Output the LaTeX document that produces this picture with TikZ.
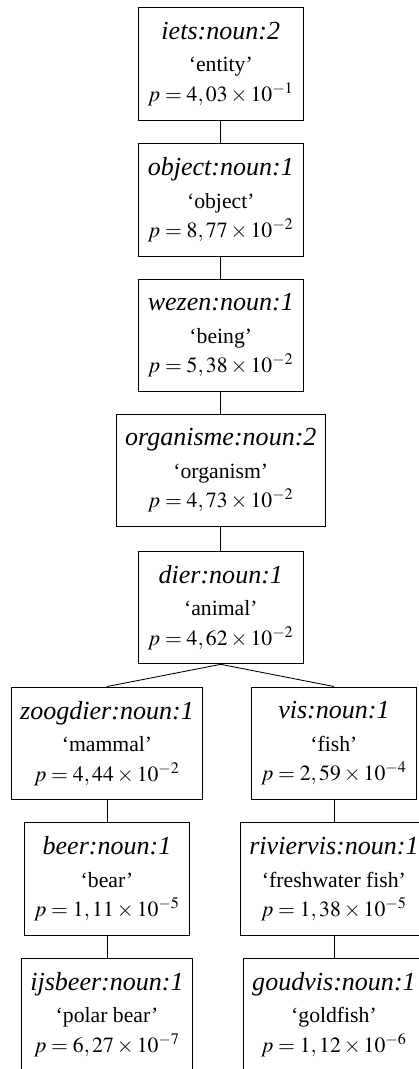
\documentclass[tikz,border=0pt]{standalone}
\usepackage{mathptmx}
\usepackage{fontspec}
\setmainfont{Liberation Serif}
\usepackage{tikz}

\begin{document}
\begin{tikzpicture}[synsetbox/.style={draw, align=center, inner xsep=4.2pt, minimum height=52pt}]
	% Fix the canvas to the reference size
	\useasboundingbox (0,0) rectangle (6.786,-17.314);

	% Macro for drawing one synset box.
	% Usage: \synset{name}{x}{y}{lemma}{gloss}{mantissa}{exponent}
	\newcommand{\synset}[7]{
		\node[synsetbox] (#1) at (#2,#3) {{\large\itshape #4}\\[3pt]`#5'\\[1.5pt]$p = #6 \times 10^{#7}$};
	}

	% Hypernym chain
	\synset{iets}{3.576}{-1.032}{iets:noun:2}{entity}{4,03}{-1}
	\synset{object}{3.576}{-3.233}{object:noun:1}{object}{8,77}{-2}
	\synset{wezen}{3.576}{-5.434}{wezen:noun:1}{being}{5,38}{-2}
	\synset{organisme}{3.576}{-7.620}{organisme:noun:2}{organism}{4,73}{-2}
	\synset{dier}{3.576}{-9.839}{dier:noun:1}{animal}{4,62}{-2}

	% Left branch
	\synset{zoogdier}{1.733}{-12.040}{zoogdier:noun:1}{mammal}{4,44}{-2}
	\synset{beer}{1.733}{-14.236}{beer:noun:1}{bear}{1,11}{-5}
	\synset{ijsbeer}{1.733}{-16.431}{ijsbeer:noun:1}{polar bear}{6,27}{-7}

	% Right branch
	\synset{vis}{5.409}{-12.040}{vis:noun:1}{fish}{2,59}{-4}
	\synset{riviervis}{5.409}{-14.236}{riviervis:noun:1}{freshwater fish}{1,38}{-5}
	\synset{goudvis}{5.409}{-16.431}{goudvis:noun:1}{goldfish}{1,12}{-6}

	% Connectors
	\draw (iets.south) -- (object.north);
	\draw (object.south) -- (wezen.north);
	\draw (wezen.south) -- (organisme.north);
	\draw (organisme.south) -- (dier.north);
	\draw (dier.south) -- (zoogdier.north);
	\draw (dier.south) -- (vis.north);
	\draw (zoogdier.south) -- (beer.north);
	\draw (beer.south) -- (ijsbeer.north);
	\draw (vis.south) -- (riviervis.north);
	\draw (riviervis.south) -- (goudvis.north);
\end{tikzpicture}
\end{document}
